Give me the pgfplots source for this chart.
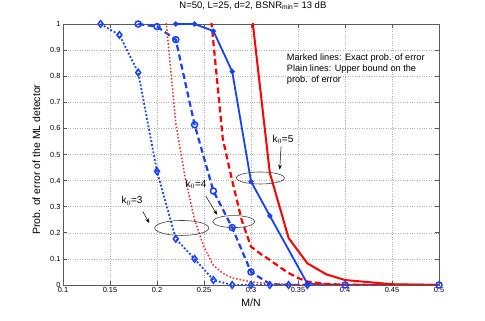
\documentclass[border=0pt]{standalone}
\usepackage{pgfplots}
\pgfplotsset{compat=1.18}
\usepackage{fontspec}
\setmainfont{Liberation Sans}
\usetikzlibrary{arrows.meta}
\definecolor{mblue}{rgb}{0.1,0.25,1}
\definecolor{axgray}{rgb}{0.35,0.35,0.35}
\begin{document}
\begin{tikzpicture}
\path[use as bounding box] (-63bp,-36bp) rectangle (422bp,285bp);
\begin{axis}[
    scale only axis,
    width=376bp,
    height=261bp,
    xmin=0.1, xmax=0.5,
    ymin=0, ymax=1,
    xtick={0.1,0.15,...,0.5},
    ytick={0,0.1,...,1},
    xticklabels={0.1,0.15,0.2,0.25,0.3,0.35,0.4,0.45,0.5},
    yticklabels={0,0.1,0.2,0.3,0.4,0.5,0.6,0.7,0.8,0.9,1},
    tick align=inside,
    major tick length=4bp,
    axis line style={axgray, line width=0.8bp},
    tick style={axgray, line width=0.6bp},
    grid=major,
    grid style={dotted, gray!60, line width=0.5bp},
    tick label style={font=\fontsize{7.4bp}{8bp}\selectfont},
    xticklabel style={yshift=1bp},
    yticklabel style={xshift=1bp},
    xlabel={M/N},
    ylabel={Prob. of error of the ML detector},
    label style={font=\fontsize{10.5bp}{12bp}\selectfont},
    xlabel style={at={(axis description cs:0.5,-0.068)}, anchor=center},
    ylabel style={at={(axis description cs:-0.071,0.48)}, anchor=center},
    title={N=50, L=25, d=2, BSNR$_{\mathrm{min}}$= 13 dB},
    title style={at={(axis description cs:0.505,1.048)}, anchor=center, font=\fontsize{9.5bp}{11bp}\selectfont},
    clip=true
]
% k0=3, exact (blue dotted, diamonds)
\addplot[mblue, dotted, line width=1.8bp, mark=diamond, mark size=3.3bp,
    mark options={solid, line width=1.5bp, fill=mblue!25}]
    coordinates {(0.14,1.0) (0.16,0.958) (0.18,0.814) (0.2,0.436) (0.22,0.177)
    (0.24,0.10) (0.26,0.019) (0.28,0.0) (0.3,0.0) (0.32,0.0) (0.34,0.0) (0.36,0.0)};
% k0=4, exact (blue dashed, circles)
\addplot[mblue, dashed, dash pattern=on 6bp off 3.5bp, line width=2.2bp, mark=o, mark size=3bp,
    mark indices={1,2,3,4,5,6,7,11,12},
    mark options={solid, line width=1.5bp, fill=mblue!25}]
    coordinates {(0.18,1.0) (0.2,0.99) (0.22,0.94) (0.24,0.614) (0.26,0.36)
    (0.28,0.22) (0.3,0.05) (0.32,0.004) (0.34,0.0) (0.36,0.0) (0.4,0.0) (0.5,0.0)};
% k0=5, exact (blue solid, dots)
\addplot[mblue, line width=1.8bp, mark=*, mark size=1.6bp,
    mark indices={1,2,3,4,5,6,8}]
    coordinates {(0.22,1.0) (0.24,1.0) (0.26,0.973) (0.28,0.818) (0.3,0.397)
    (0.32,0.265) (0.34,0.135) (0.36,0.005) (0.4,0.0) (0.5,0.0)};
% k0=3, bound (red dotted)
\addplot[red!85, dotted, line width=1.5bp]
    coordinates {(0.2,1.5) (0.21,1.0) (0.22,0.62) (0.23,0.41) (0.24,0.25)
    (0.25,0.145) (0.26,0.075) (0.27,0.045) (0.28,0.027) (0.3,0.012)
    (0.32,0.005) (0.34,0.002) (0.36,0.001) (0.4,0.0) (0.5,0.0)};
% k0=4, bound (red dashed)
\addplot[red, dashed, dash pattern=on 6bp off 3.5bp, line width=2.2bp]
    coordinates {(0.25,1.3) (0.26,0.93) (0.27,0.56) (0.28,0.40) (0.29,0.25)
    (0.3,0.147) (0.31,0.12) (0.32,0.096) (0.33,0.07) (0.34,0.046) (0.35,0.027)
    (0.36,0.013) (0.38,0.004) (0.4,0.001) (0.45,0.0) (0.5,0.0)};
% k0=5, bound (red solid)
\addplot[red, line width=2bp]
    coordinates {(0.3,1.063) (0.32,0.43) (0.34,0.18) (0.36,0.083) (0.38,0.041)
    (0.4,0.019) (0.45,0.003) (0.5,0.0)};
% annotations
\draw[black!75, line width=0.6bp] (axis cs:0.310,0.41) ellipse [x radius=24bp, y radius=6bp];
\draw[black!75, line width=0.6bp] (axis cs:0.2817,0.243) ellipse [x radius=21bp, y radius=6bp];
\draw[black!75, line width=0.6bp] (axis cs:0.2263,0.2185) ellipse [x radius=27bp, y radius=7.5bp];
\node[font=\fontsize{10bp}{12bp}\selectfont] at (axis cs:0.334,0.558) {k$_0$=5};
\node[font=\fontsize{10bp}{12bp}\selectfont] at (axis cs:0.2415,0.385) {k$_0$=4};
\node[font=\fontsize{10bp}{12bp}\selectfont] at (axis cs:0.1734,0.323) {k$_0$=3};
\draw[-{Stealth[length=5bp,width=3.5bp]}, line width=0.5bp] (axis cs:0.332,0.531) -- (axis cs:0.3305,0.442);
\draw[-{Stealth[length=5bp,width=3.5bp]}, line width=0.5bp] (axis cs:0.252,0.34) -- (axis cs:0.264,0.269);
\draw[-{Stealth[length=5bp,width=3.5bp]}, line width=0.5bp] (axis cs:0.1848,0.282) -- (axis cs:0.1918,0.237);
\node[anchor=north west, align=left, inner sep=0pt,
      font=\fontsize{9.2bp}{11bp}\selectfont] at (axis cs:0.338,0.888)
    {Marked lines: Exact prob. of error\\Plain lines: Upper bound on the\\prob. of error};
\end{axis}
\end{tikzpicture}
\end{document}
